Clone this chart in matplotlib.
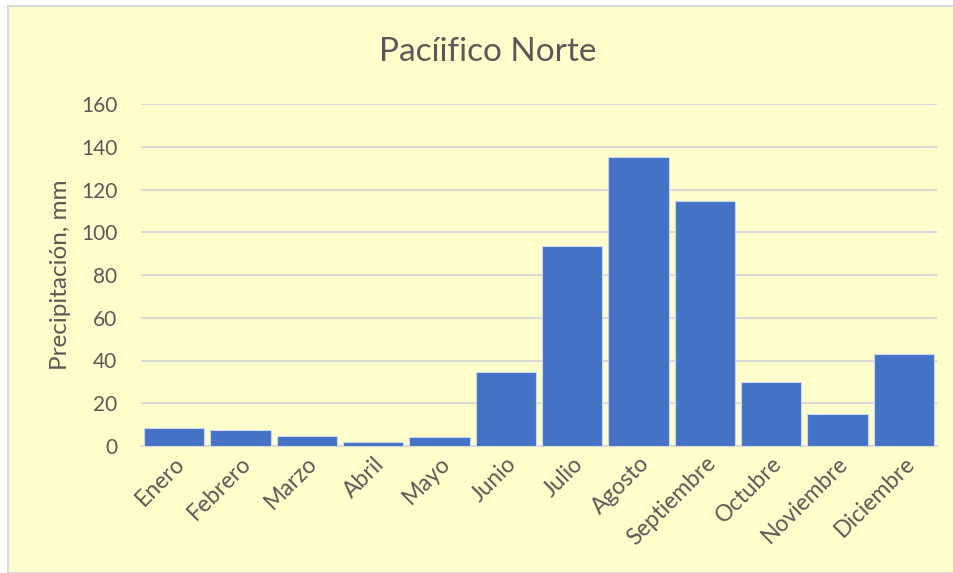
import matplotlib
matplotlib.use("Agg")
import matplotlib.pyplot as plt
from matplotlib.patches import Rectangle

meses = ["Enero", "Febrero", "Marzo", "Abril", "Mayo", "Junio", "Julio",
         "Agosto", "Septiembre", "Octubre", "Noviembre", "Diciembre"]
precip = [8.5, 7.7, 4.9, 2.1, 4.0, 34.7, 93.4, 135.4, 114.8, 30.1, 15.1, 43.0]
yticks = [0, 20, 40, 60, 80, 100, 120, 140, 160]

plt.rcParams['font.family'] = ['Lato', 'DejaVu Sans']
gris = '#595959'

fig = plt.figure(figsize=(9.54, 5.73), dpi=100, facecolor='white')
# chart area (pale yellow with light border)
fig.patches.append(Rectangle((8/954, 0), 1 - 8/954, 1 - 6/573, transform=fig.transFigure,
                             facecolor='#FFFFCC', edgecolor='#D9D9D9', linewidth=1.5, zorder=-10))

ax = fig.add_axes([141/954, 1 - 446/573, 796/954, 342/573])
ax.set_facecolor('none')
x = list(range(len(meses)))
ax.bar(x, precip, width=0.91, color='#4472C4', edgecolor='#c8d6ee', linewidth=0.8, zorder=3)

ax.set_xlim(-0.5, 11.5)
ax.set_ylim(0, 160)
ax.set_yticks(yticks)
ax.set_xticks(x)
ax.set_xticklabels(meses, rotation=45, ha='right', rotation_mode='anchor')
ax.tick_params(axis='both', length=0, colors=gris)
ax.tick_params(axis='y', pad=17, labelsize=15)
ax.tick_params(axis='x', pad=5, labelsize=16.5)
ax.grid(axis='y', color='#D9D9D9', linewidth=1.5, zorder=0)
for s in ['top', 'right', 'left']:
    ax.spines[s].set_visible(False)
ax.spines['bottom'].set_color('#D9D9D9')
ax.spines['bottom'].set_linewidth(1.5)

ax.set_ylabel("Precipitación, mm", fontsize=17.5, color=gris, labelpad=7)
fig.text(488/954, 1 - 52/573, "Pacíifico Norte", fontsize=24, color=gris, ha='center', va='center')

fig.savefig("out.png", dpi=100, facecolor=fig.get_facecolor())
